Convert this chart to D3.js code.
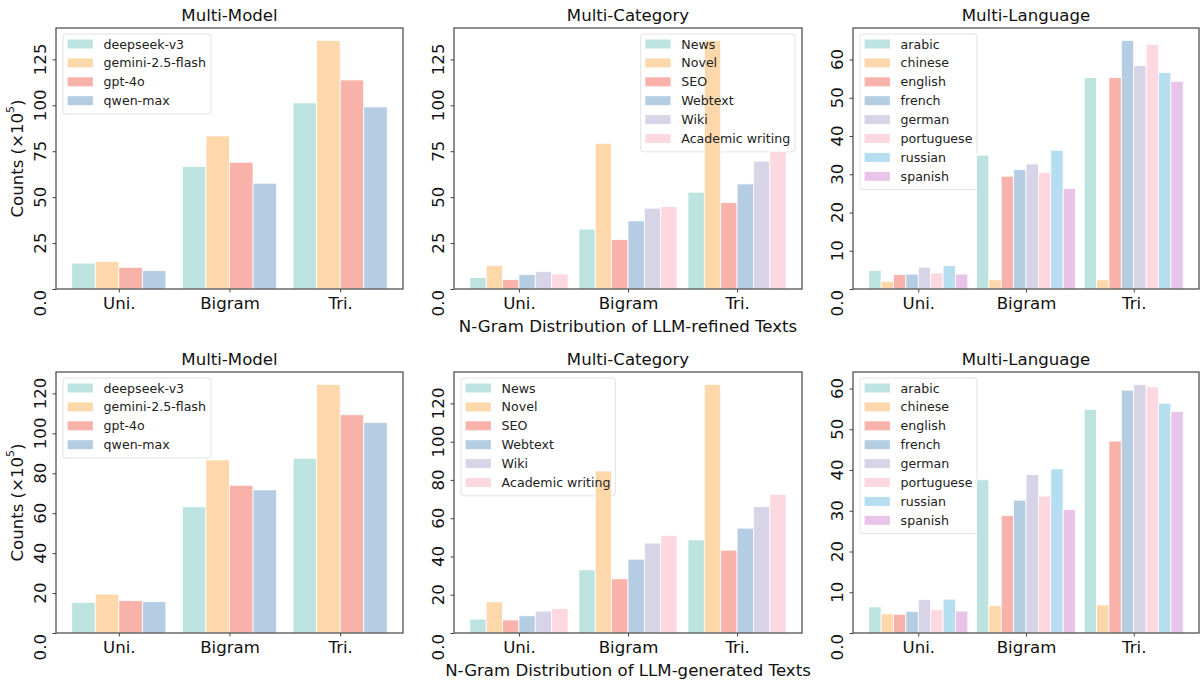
<!DOCTYPE html>
<html>
<head>
<meta charset="UTF-8">
<title>N-Gram Distribution</title>
<script src="https://d3js.org/d3.v7.min.js"></script>
<style>
  body { margin: 0; background: #fff; }
  svg { display: block; font-family: "DejaVu Sans", sans-serif; }
</style>
</head>
<body>
<svg width="1200" height="683"></svg>
<script>
const groups = ["Uni.", "Bigram", "Tri."];

const models = ["deepseek-v3", "gemini-2.5-flash", "gpt-4o", "qwen-max"];
const categories = ["News", "Novel", "SEO", "Webtext", "Wiki", "Academic writing"];
const languages = ["arabic", "chinese", "english", "french", "german", "portuguese", "russian", "spanish"];

// refined texts (x10^5), one row per series: Uni, Bigram, Tri
const refinedModel = [
  [14.1, 66.7, 101.3],
  [14.9, 83.3, 135.3],
  [11.8, 69.0, 113.8],
  [10.0, 57.6, 99.1]
];
const refinedCategory = [
  [6.3, 32.6, 52.7],
  [12.9, 79.3, 135.3],
  [5.1, 27.0, 47.1],
  [7.8, 37.1, 57.2],
  [9.4, 44.0, 69.6],
  [8.2, 44.9, 75.0]
];
const refinedLanguage = [
  [4.8, 35.0, 55.3],
  [2.0, 2.4, 2.4],
  [3.8, 29.5, 55.3],
  [3.9, 31.2, 65.0],
  [5.7, 32.7, 58.4],
  [4.2, 30.5, 64.0],
  [6.1, 36.3, 56.6],
  [3.9, 26.3, 54.3]
];

// generated texts (x10^5)
const generatedModel = [
  [15.3, 63.2, 87.5],
  [19.5, 86.7, 124.5],
  [16.2, 74.0, 109.3],
  [15.7, 71.7, 105.5]
];
const generatedCategory = [
  [7.3, 33.0, 48.7],
  [16.3, 84.7, 129.9],
  [6.8, 28.3, 43.3],
  [9.0, 38.6, 54.8],
  [11.5, 47.0, 66.1],
  [12.7, 51.0, 72.5]
];
const generatedLanguage = [
  [6.4, 37.6, 54.9],
  [4.7, 6.7, 6.9],
  [4.6, 28.8, 47.1],
  [5.3, 32.6, 59.6],
  [8.2, 38.9, 61.0],
  [5.7, 33.6, 60.4],
  [8.3, 40.3, 56.4],
  [5.4, 30.3, 54.4]
];

const palette = ["#bce3df", "#fed7ab", "#f9b2a9", "#b4cde2", "#d7d4e8", "#fdd8e0", "#b7def0", "#e8c5e8"];

const svg = d3.select("svg");

const cols = [[56, 403], [454, 802], [853, 1199]];
const rows = [[28, 289], [372, 633]];
const legendW = [148, 154.3, 117];

const panels = [
  {r: 0, c: 0, title: "Multi-Model", names: models, data: refinedModel, ticks: [0, 25, 50, 75, 100, 125], gw: 0.85, legend: "left"},
  {r: 0, c: 1, title: "Multi-Category", names: categories, data: refinedCategory, ticks: [0, 25, 50, 75, 100, 125], gw: 0.9, legend: "right"},
  {r: 0, c: 2, title: "Multi-Language", names: languages, data: refinedLanguage, ticks: [0, 10, 20, 30, 40, 50, 60], gw: 0.92, legend: "left"},
  {r: 1, c: 0, title: "Multi-Model", names: models, data: generatedModel, ticks: [0, 20, 40, 60, 80, 100, 120], gw: 0.85, legend: "left"},
  {r: 1, c: 1, title: "Multi-Category", names: categories, data: generatedCategory, ticks: [0, 20, 40, 60, 80, 100, 120], gw: 0.9, legend: "left"},
  {r: 1, c: 2, title: "Multi-Language", names: languages, data: generatedLanguage, ticks: [0, 10, 20, 30, 40, 50, 60], gw: 0.92, legend: "left"}
];

const xlabels = ["N-Gram Distribution of LLM-refined Texts", "N-Gram Distribution of LLM-generated Texts"];
const axisColor = "#444";

panels.forEach(p => {
  const [x0, x1] = cols[p.c];
  const [y0, y1] = rows[p.r];
  const g = svg.append("g");

  const pad = 0.05 * (2 + p.gw);
  const x = d3.scaleLinear().domain([-p.gw / 2 - pad, 2 + p.gw / 2 + pad]).range([x0, x1]);
  const inner = d3.scaleBand().domain(d3.range(p.names.length)).range([-p.gw / 2, p.gw / 2]);
  const ymax = 1.05 * d3.max(p.data.flat());
  const y = d3.scaleLinear().domain([0, ymax]).range([y1, y0]);

  // legend frame sits under the bars, entries above
  const rowH = 18.9;
  const bw = legendW[p.c];
  const bh = p.names.length * rowH + 4.5;
  const bx = p.legend === "left" ? x0 + 7 : x1 - 7 - bw;
  const by = y0 + 6;
  g.append("rect")
    .attr("x", bx).attr("y", by)
    .attr("width", bw).attr("height", bh)
    .attr("rx", 3)
    .attr("fill", "#fff")
    .attr("stroke", "#e2e2e2").attr("stroke-width", 1);

  // bars
  p.data.forEach((vals, s) => {
    g.selectAll(null)
      .data(vals)
      .enter()
      .append("rect")
      .attr("x", (d, i) => x(i + inner(s)))
      .attr("width", x(inner.bandwidth()) - x(0))
      .attr("y", d => y(d))
      .attr("height", d => y(0) - y(d))
      .attr("fill", palette[s])
      .attr("stroke", "#fff")
      .attr("stroke-width", 0.8);
  });

  const lg = g.append("g");
  p.names.forEach((n, s) => {
    const cy = by + 10 + s * rowH;
    lg.append("rect")
      .attr("x", bx + 4.6).attr("y", cy - 4.5)
      .attr("width", 25.3).attr("height", 9)
      .attr("fill", palette[s]);
    lg.append("text")
      .attr("x", bx + 40.6).attr("y", cy)
      .attr("dominant-baseline", "central")
      .style("font-size", "12.6px")
      .attr("fill", "#222")
      .text(n);
  });

  // frame
  g.append("rect")
    .attr("x", x0).attr("y", y0)
    .attr("width", x1 - x0).attr("height", y1 - y0)
    .attr("fill", "none")
    .attr("stroke", axisColor).attr("stroke-width", 1.2);

  // x axis
  const xAxis = g.append("g")
    .attr("transform", `translate(0,${y1})`)
    .call(d3.axisBottom(x).tickValues([0, 1, 2]).tickFormat(i => groups[i]).tickSize(3.5).tickPadding(5));
  xAxis.select(".domain").remove();
  xAxis.selectAll("line").attr("stroke", axisColor);
  xAxis.selectAll("text").style("font-size", "16.6px").attr("fill", "#111")
    .style("font-family", "'DejaVu Sans', sans-serif");

  // y axis, labels rotated
  const yAxis = g.append("g")
    .attr("transform", `translate(${x0},0)`)
    .call(d3.axisLeft(y).tickValues(p.ticks).tickSize(3.5).tickFormat(""));
  yAxis.select(".domain").remove();
  yAxis.selectAll("line").attr("stroke", axisColor);
  p.ticks.forEach(t => {
    const zero = t === 0;
    g.append("text")
      .attr("transform", `translate(${x0 - 16},${zero ? y(t) + 1 : y(t)}) rotate(-90)`)
      .attr("text-anchor", zero ? "end" : "middle")
      .attr("dominant-baseline", "central")
      .style("font-size", "16.6px")
      .attr("fill", "#111")
      .text(zero ? "0.0" : t);
  });

  // title
  g.append("text")
    .attr("x", (x0 + x1) / 2).attr("y", y0 - 13)
    .attr("text-anchor", "middle")
    .attr("dominant-baseline", "central")
    .style("font-size", "16.6px")
    .attr("fill", "#111")
    .text(p.title);

  if (p.c === 0) {
    const yl = g.append("text")
      .attr("transform", `translate(17,${(y0 + y1) / 2}) rotate(-90)`)
      .attr("text-anchor", "middle")
      .attr("dominant-baseline", "central")
      .style("font-size", "16.6px")
      .attr("fill", "#111");
    yl.append("tspan").text("Counts (×10");
    yl.append("tspan").attr("baseline-shift", "super").style("font-size", "11px").text("5");
    yl.append("tspan").text(")");
  }
  if (p.c === 1) {
    g.append("text")
      .attr("x", (x0 + x1) / 2).attr("y", y1 + 37)
      .attr("text-anchor", "middle")
      .attr("dominant-baseline", "central")
      .style("font-size", "16.6px")
      .attr("fill", "#111")
      .text(xlabels[p.r]);
  }
});
</script>
</body>
</html>
